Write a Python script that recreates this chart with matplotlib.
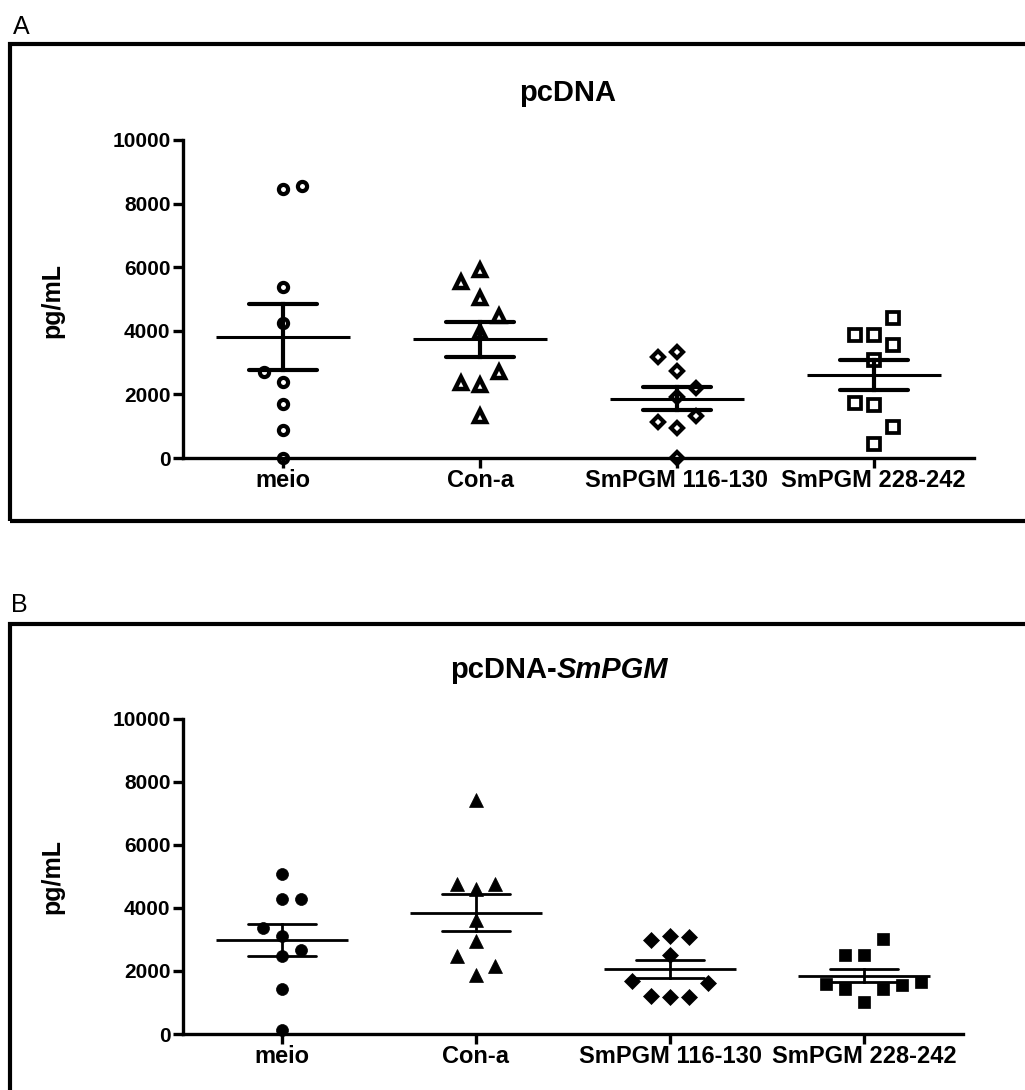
import numpy as np
import matplotlib.pyplot as plt
from matplotlib.patches import Rectangle

plt.rcParams['font.family'] = ['Liberation Sans', 'DejaVu Sans']
plt.rcParams['font.weight'] = 'bold'

groups = ['meio', 'Con-a', 'SmPGM 116-130', 'SmPGM 228-242']
yticks = [0, 2000, 4000, 6000, 8000, 10000]

# A - pcDNA (pg/mL)
a_meio = [8450, 8550, 5390, 4235, 2695, 2400, 1690, 880, 0]
a_cona = [5910, 5545, 5020, 4465, 3970, 2715, 2350, 2295, 1320]
a_116 = [3186, 3343, 2745, 2190, 1930, 1320, 1140, 955, 0]
a_228 = [4390, 3870, 3870, 3550, 3080, 1720, 1665, 985, 440]

# B - pcDNA-SmPGM (pg/mL)
b_meio = [5087, 4270, 4270, 3358, 3094, 2649, 2458, 1431, 127]
b_cona = [7418, 4770, 4770, 4610, 3602, 2935, 2458, 2140, 1876]
b_116 = [2967, 3094, 3072, 2490, 1673, 1610, 1218, 1186, 1186]
b_228 = [2998, 2512, 2490, 1590, 1431, 1431, 1558, 1641, 1005]

# coluna de cada ponto no dot plot (espalhamento tipo Prism)
a_slots = [[0, 1, 0, 0, -1, 0, 0, 0, 0],
           [0, -1, 0, 1, 0, 1, -1, 0, 0],
           [-1, 0, 0, 1, 0, 1, -1, 0, 0],
           [1, -1, 0, 1, 0, -1, 0, 1, 0]]
b_slots = [[0, 0, 1, -1, 0, 1, 0, 0, 0],
           [0, -1, 1, 0, 0, 0, -1, 1, 0],
           [-1, 0, 1, 0, -2, 2, -1, 0, 1],
           [1, -1, 0, -2, -1, 1, 2, 3, 0]]

W, H = 1025, 1090
fig = plt.figure(figsize=(W / 100, H / 100), dpi=100)


def draw_panel(ax, data, slots, marks, open_marks, lw_mean, lw_sem):
    slot_w = 0.097
    for i, vals in enumerate(data):
        vals = np.array(vals, dtype=float)
        m = vals.mean()
        sem = vals.std(ddof=1) / np.sqrt(len(vals))
        ax.plot([i - 0.34, i + 0.34], [m, m], color='black', lw=lw_mean,
                solid_capstyle='butt', zorder=2)
        ax.plot([i - 0.173, i + 0.173], [m + sem, m + sem], color='black',
                lw=lw_sem, solid_capstyle='round', zorder=2)
        ax.plot([i - 0.173, i + 0.173], [m - sem, m - sem], color='black',
                lw=lw_sem, solid_capstyle='round', zorder=2)
        ax.plot([i, i], [m - sem, m + sem], color='black', lw=lw_sem, zorder=2)
        xs = i + np.array(slots[i]) * slot_w
        mk, ms, mw = marks[i]
        if open_marks:
            ax.plot(xs, vals, ls='none', marker=mk, ms=ms, mfc='none',
                    mec='black', mew=mw, clip_on=False, zorder=3)
        else:
            ax.plot(xs, vals, ls='none', marker=mk, ms=ms, mfc='black',
                    mec='black', mew=mw, clip_on=False, zorder=3)

    ax.set_xlim(-0.51, 3.51)
    ax.set_ylim(0, 10000)
    ax.set_yticks(yticks)
    ax.set_yticklabels([str(t) for t in yticks], fontsize=15)
    ax.set_xticks(range(len(groups)))
    ax.set_xticklabels(groups, fontsize=17)
    for s in ['top', 'right']:
        ax.spines[s].set_visible(False)
    for s in ['left', 'bottom']:
        ax.spines[s].set_linewidth(2.4)
    ax.tick_params(axis='both', length=7, width=2.4, direction='out')
    ax.tick_params(axis='y', pad=2)
    ax.tick_params(axis='x', pad=1)


# painel A
axA = fig.add_axes([183 / W, 1 - 458 / H, (974 - 183) / W, (458 - 140) / H])
draw_panel(axA, [a_meio, a_cona, a_116, a_228], a_slots,
           [('o', 6.6, 3.0), ('^', 8.0, 3.2), ('D', 5.8, 3.0), ('s', 8.0, 2.7)],
           True, 2.2, 3.0)

# painel B
axB = fig.add_axes([183 / W, 1 - 1034 / H, (963 - 183) / W, (1034 - 718.5) / H])
draw_panel(axB, [b_meio, b_cona, b_116, b_228], b_slots,
           [('o', 8.6, 0.5), ('^', 10, 0.5), ('D', 8.6, 0.5), ('s', 8.6, 0.5)],
           False, 2.0, 2.0)

# molduras
fig.patches.append(Rectangle((10 / W, 1 - 521 / H), 1.2, (521 - 44) / H,
                             transform=fig.transFigure, fill=False,
                             lw=3, ec='black'))
fig.patches.append(Rectangle((10 / W, -0.2), 1.2, 0.2 + 1 - 624 / H,
                             transform=fig.transFigure, fill=False,
                             lw=3, ec='black'))

# letras dos paineis
fig.text(13 / W, 1 - 34 / H, 'A', fontsize=18, fontweight='normal',
         ha='left', va='baseline')
fig.text(11 / W, 1 - 612 / H, 'B', fontsize=18, fontweight='normal',
         ha='left', va='baseline')

# eixo y
fig.text(52 / W, 1 - 300 / H, 'pg/mL', rotation=90, fontsize=18,
         ha='center', va='center')
fig.text(52 / W, 1 - 876 / H, 'pg/mL', rotation=90, fontsize=18,
         ha='center', va='center')

# titulos
fig.text(568 / W, 1 - 101 / H, 'pcDNA', fontsize=21, ha='center', va='baseline')
t1 = fig.text(450 / W, 1 - 678 / H, 'pcDNA-', fontsize=21, ha='left',
              va='baseline')
fig.canvas.draw()
bb = t1.get_window_extent()
fig.text(bb.x1 / W, 1 - 678 / H, 'SmPGM', fontsize=21, style='italic',
         ha='left', va='baseline')

fig.savefig('out.png', dpi=100)
